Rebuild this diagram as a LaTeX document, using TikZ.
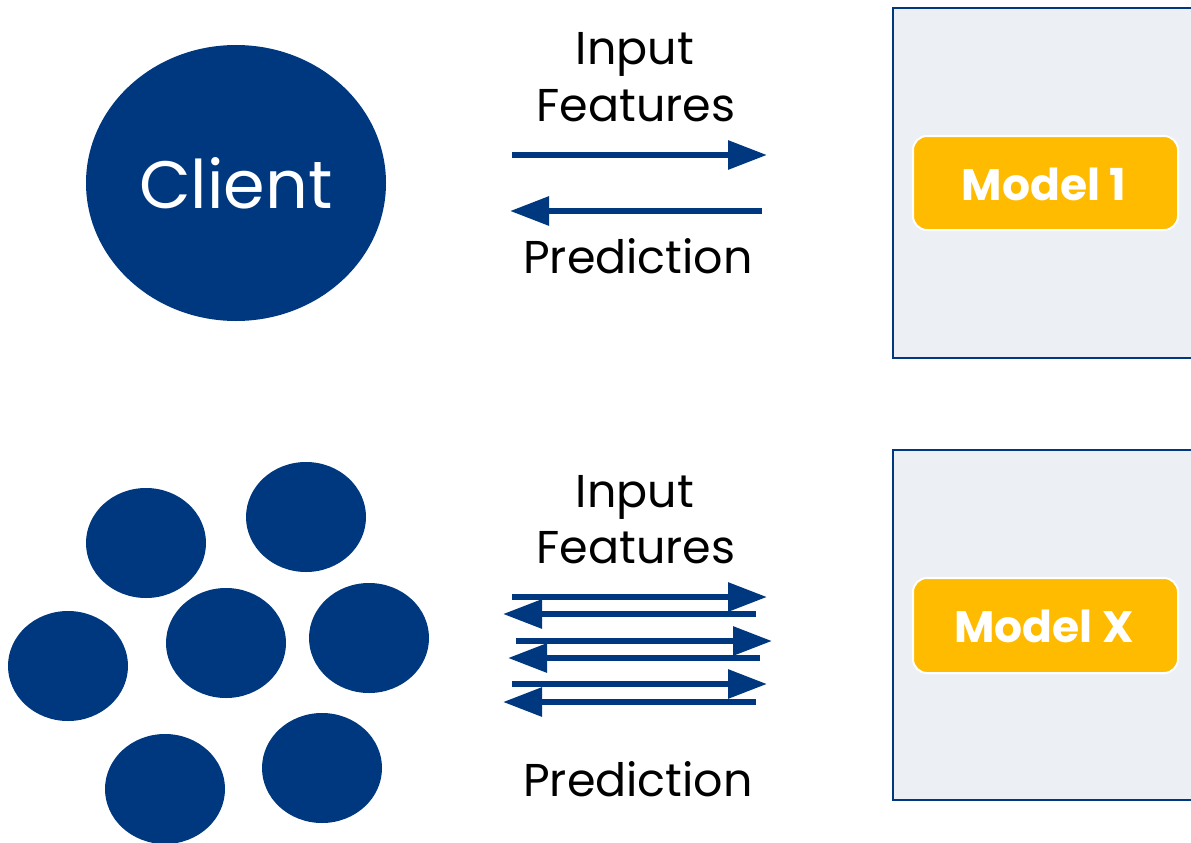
\documentclass[tikz,border=0pt]{standalone}
\usepackage{fontspec}
\setmainfont{Poppins}
\usetikzlibrary{arrows.meta}
\definecolor{navy}{RGB}{0,56,128}
\definecolor{panel}{RGB}{236,239,244}
\definecolor{gold}{RGB}{255,187,0}
\begin{document}
\begin{tikzpicture}[x=1pt,y=-1pt,
  lbl/.style={anchor=base,font=\fontsize{46}{50}\selectfont,text=black,inner sep=0},
  panelbox/.style={fill=panel,draw=navy,line width=2pt},
  modelbox/.style={fill=gold,draw=white,line width=2pt,rounded corners=14pt},
  modeltext/.style={text=white,font=\fontsize{44}{48}\selectfont\bfseries,anchor=base,inner sep=0},
  flow/.style={draw=navy,line width=6pt,-{Triangle[length=39pt,width=28pt]}},
]
\useasboundingbox (0,0) rectangle (1191,843);
% clients
\fill[navy] (236,183) ellipse [x radius=150,y radius=138];
\node[text=white,font=\fontsize{67}{71}\selectfont,anchor=base,inner sep=0] (client) at (236,208) {Client};
\fill[navy] (146,543) ellipse [x radius=60,y radius=55];
\fill[navy] (306,517) ellipse [x radius=60,y radius=55];
\fill[navy] (68,666) ellipse [x radius=60,y radius=55];
\fill[navy] (226,643) ellipse [x radius=60,y radius=55];
\fill[navy] (369,638) ellipse [x radius=60,y radius=55];
\fill[navy] (165,789) ellipse [x radius=60,y radius=55];
\fill[navy] (322,768) ellipse [x radius=60,y radius=55];
% panels
\path[panelbox] (893,8) rectangle (1200,358);
\path[panelbox] (893,450) rectangle (1200,800);
\path[modelbox] (913,136) rectangle (1178,230);
\node[modeltext] (m1) at (1044,200) {Model 1};
\path[modelbox] (913,578) rectangle (1178,673);
\node[modeltext] (mx) at (1044,642) {Model X};
% labels top
\node[lbl] (in1) at (635,65) {Input};
\node[lbl] (f1) at (636,121) {Features};
\node[lbl] (p1) at (638,273) {Prediction};
% labels bottom
\node[lbl] (in2) at (635,507) {Input};
\node[lbl] (f2) at (636,563) {Features};
\node[lbl] (p2) at (638,796) {Prediction};
% arrows top
\coordinate (a1s) at (512,155); \coordinate (a1e) at (767,155);
\coordinate (b1s) at (762,211); \coordinate (b1e) at (510,211);
\draw[flow] (a1s) -- (a1e);
\draw[flow] (b1s) -- (b1e);
% arrows bottom
\coordinate (r1s) at (512,597); \coordinate (r1e) at (767,597);
\coordinate (l1s) at (756,614); \coordinate (l1e) at (503,614);
\coordinate (r2s) at (516,641); \coordinate (r2e) at (772,641);
\coordinate (l2s) at (760,658); \coordinate (l2e) at (508,658);
\coordinate (r3s) at (512,684); \coordinate (r3e) at (767,684);
\coordinate (l3s) at (756,702); \coordinate (l3e) at (503,702);
\draw[flow] (r1s) -- (r1e);
\draw[flow] (l1s) -- (l1e);
\draw[flow] (r2s) -- (r2e);
\draw[flow] (l2s) -- (l2e);
\draw[flow] (r3s) -- (r3e);
\draw[flow] (l3s) -- (l3e);
\end{tikzpicture}
\end{document}
